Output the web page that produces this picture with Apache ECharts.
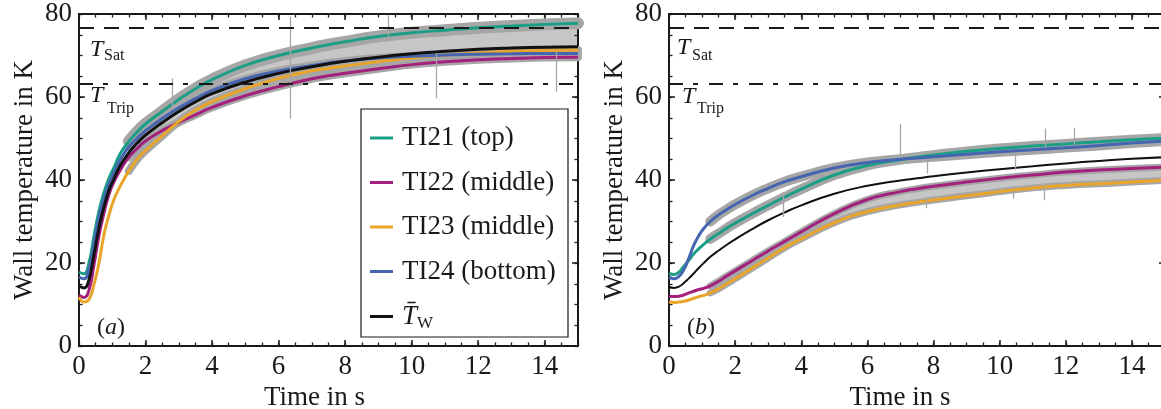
<!DOCTYPE html>
<html><head><meta charset="utf-8">
<script src="https://cdn.jsdelivr.net/npm/echarts@6/dist/echarts.min.js"></script>
<style>html,body{margin:0;padding:0;background:#fff}#c{width:1161px;height:409px}</style>
</head><body><div id="c"></div>
<script>
// ---------------- data ----------------
const time = [0,0.15,0.3,0.45,0.6,0.75,0.9,1.05,1.25,1.5,1.75,2,2.5,3,3.5,4,5,6,7,7.5,8,9,10,11,12,13,14,15];
const seriesNames = ['TI21 (top)','TI22 (middle)','TI23 (middle)','TI24 (bottom)','Tw'];

// panel (a)
const a_TI21 = [17.8,17.4,20,26.5,32.5,37,40.4,43,46.5,49.3,51.6,53.5,56.5,59.4,62,64.2,67.6,70,71.8,72.6,73.3,74.6,75.5,76.1,76.7,77.1,77.5,77.8];
const a_TI22 = [12.2,11.7,13.5,19.5,26.5,32,36.5,39.5,42.5,45.5,47.6,49.4,51.9,53.9,55.7,57.5,60.3,62.5,64.4,65.1,65.7,66.8,67.8,68.5,69,69.3,69.5,69.6];
const a_TI23 = [11.8,10.6,11.2,14.8,20,26.8,31.5,35.3,38.7,42.2,45,47.1,50.6,54.1,56.8,58.9,62,64.5,66.3,66.9,67.5,68.5,69.4,70.1,70.6,71,71.2,71.3];
const a_TI24 = [16.6,16.2,18.5,24.5,31,35.5,39,41.8,45,48,50.1,51.9,54.8,57.4,59.6,61.6,64.4,66.3,67.6,68.2,68.7,69.4,69.8,70.1,70.3,70.4,70.5,70.5];
const a_Tw   = [14.4,14,16,22,28.5,33.5,37.5,40.3,43.6,46.6,48.9,50.8,53.8,56.5,58.8,60.8,63.6,65.7,67.3,68,68.6,69.6,70.4,71,71.5,71.8,72,72.1];
const a_spikeT  = [2.8,6.35,9.3,10.73,14.36];
const a_spikeLo = [57,54.8,74,59.7,61.3];
const a_spikeHi = [64.5,79.4,79.8,70.5,71];

// panel (b)
const b_TI21 = [17.5,17.2,17.8,19.2,20.7,22.2,23.4,24.5,25.8,27.1,28.4,29.6,31.8,33.9,35.9,37.8,41.2,43.5,44.9,45.5,46,46.9,47.6,48.2,48.7,49.2,49.7,50.1];
const b_TI22 = [12,11.9,12,12.3,12.8,13.2,13.6,13.9,14.5,15.6,16.9,18.1,20.5,22.9,25.2,27.5,31.9,35.3,37.2,37.9,38.5,39.5,40.4,41.2,41.9,42.4,42.8,43.1];
const b_TI23 = [10.6,10.5,10.6,10.8,11.1,11.5,11.9,12.2,12.8,13.8,15,16.2,18.7,21.2,23.7,25.8,29.7,32.4,34,34.6,35.2,36.2,37.2,38.1,38.7,39.1,39.5,39.9];
const b_TI24 = [16.6,16.2,16.8,18.4,21.2,24.3,26.6,28.3,30,31.6,32.9,34.1,36.2,38,39.6,40.8,42.9,44.2,45,45.3,45.6,46.2,46.8,47.3,47.8,48.3,48.9,49.4];
const b_Tw   = [14.2,14,14.3,15.2,16.3,17.5,18.8,20,21.5,23,24.4,25.7,28.1,30.3,32.2,33.9,36.7,38.6,39.9,40.4,40.9,41.8,42.6,43.3,44,44.6,45.1,45.5];
const b_spikeT  = [3.47,7.0,7.77,7.8,10.4,10.46,11.35,11.37,12.26];
const b_spikeLo = [31.1,46,33.2,41.6,35.5,42.4,35.1,48,48.5];
const b_spikeHi = [37,53.5,35.5,45,37.5,46.5,38.5,52.4,52.6];

const T_SAT = 76.8, T_TRIP = 63.1;

// ---------------- styling ----------------
const FF = 'Liberation Serif';
const INK = '#1a1a1a';
const COLORS = ['#1b9e86','#a3207d','#e9a52a','#4565b0','#111111'];
const GRAY = '#a6a6a6';
const GRAY_FILL = '#c6c6c6';

function xAxesFor(g, pad) {
  const base = {type:'value', gridIndex:g, min:0, max:15, splitLine:{show:false},
    axisLine:{show:false,onZero:false}, axisLabel:{show:false},
    axisTick:{show:true,inside:true,length:3.5,lineStyle:{color:INK,width:1.3}}};
  const major = {axisLine:{show:true,onZero:false,lineStyle:{color:INK,width:2}},
    axisTick:{show:true,inside:true,length:6,lineStyle:{color:INK,width:1.5}}};
  return [
    Object.assign({}, base, major, {position:'bottom', interval:2,
      axisLabel:{show:true, margin:7, color:INK, fontFamily:FF, fontSize:27, showMaxLabel:false},
      name:'Time in s', nameLocation:'middle', nameGap:37,
      nameTextStyle:{color:INK, fontFamily:FF, fontSize:27, padding:[0,pad,0,0]}}),
    Object.assign({}, base, {position:'bottom', interval:0.5}),
    Object.assign({}, base, major, {position:'top', interval:2}),
    Object.assign({}, base, {position:'top', interval:0.5})
  ];
}
function yAxesFor(g) {
  const base = {type:'value', gridIndex:g, min:0, max:80, splitLine:{show:false},
    axisLine:{show:false,onZero:false}, axisLabel:{show:false},
    axisTick:{show:true,inside:true,length:3.5,lineStyle:{color:INK,width:1.3}}};
  const major = {axisLine:{show:true,onZero:false,lineStyle:{color:INK,width:2}},
    axisTick:{show:true,inside:true,length:6,lineStyle:{color:INK,width:1.5}}};
  return [
    Object.assign({}, base, major, {position:'left', interval:20,
      axisLabel:{show:true, margin:7, color:INK, fontFamily:FF, fontSize:27},
      name:'Wall temperature in K', nameLocation:'middle', nameGap:41,
      nameTextStyle:{color:INK, fontFamily:FF, fontSize:27}}),
    Object.assign({}, base, {position:'left', interval:5}),
    Object.assign({}, base, major, {position:'right', interval:20}),
    Object.assign({}, base, {position:'right', interval:5})
  ];
}

const xy = arr => time.map((t,i)=>[t, arr[i]]);
const fromT = (arr, t0) => time.map((t,i)=>[t, arr[i]]).filter(p => p[0] >= t0);

const panels = [
  {ax:0, raw:[a_TI21,a_TI22,a_TI23,a_TI24], mean:a_Tw, sp:[a_spikeT,a_spikeLo,a_spikeHi],
   grayW:[12,8,8,8], grayT0:1.5, meanW:3, band:[a_TI22, a_TI21], bandT0:2},
  {ax:4, raw:[b_TI21,b_TI22,b_TI23,b_TI24], mean:b_Tw, sp:[b_spikeT,b_spikeLo,b_spikeHi],
   grayW:[10,7,7,10], grayT0:1.25, meanW:2, band:[b_TI23, b_TI22], bandT0:1.75}
];

const series = [];
panels.forEach((p, pi) => {
  // dense noise region between two raw signals: grey area under the upper signal,
  // then white area under the lower signal
  series.push({type:'line', name:'bandHi'+pi, xAxisIndex:p.ax, yAxisIndex:p.ax,
    data:fromT(p.band[1], p.bandT0), symbol:'none', smooth:0.5, silent:true, z:0,
    lineStyle:{width:0, opacity:0}, areaStyle:{color:GRAY_FILL, opacity:1, origin:'start'}});
  series.push({type:'line', name:'bandLo'+pi, xAxisIndex:p.ax, yAxisIndex:p.ax,
    data:xy(p.band[0]), symbol:'none', smooth:0.5, silent:true, z:0,
    lineStyle:{width:0, opacity:0}, areaStyle:{color:'#ffffff', opacity:1, origin:'start'}});
  // noisy raw signals (grey)
  p.raw.forEach((arr, k) => {
    const s = {type:'line', name:'raw'+pi+k, xAxisIndex:p.ax, yAxisIndex:p.ax, data:fromT(arr, p.grayT0),
      symbol:'none', smooth:0.5, silent:true, z:1,
      lineStyle:{color:GRAY, width:p.grayW[k], cap:'round', join:'round'}, itemStyle:{color:GRAY}};
    if (k === 0) {
      s.markLine = {silent:true, symbol:['none','none'], label:{show:false},
        lineStyle:{color:GRAY, width:1.3, type:'solid'},
        data: p.sp[0].map((t,i)=>[{coord:[t,p.sp[1][i]]},{coord:[t,p.sp[2][i]]}])};
    }
    series.push(s);
  });
  // reference lines
  series.push({type:'line', name:'ref'+pi, xAxisIndex:p.ax, yAxisIndex:p.ax, data:[], z:2,
    markLine:{silent:true, symbol:['none','none'], label:{show:false},
      data:[
        {yAxis:T_SAT, lineStyle:{color:INK, width:2, type:[15,10]}},
        {yAxis:T_TRIP, lineStyle:{color:INK, width:2, type:[14,10,5,11]}}
      ]}});
  // smoothed signals
  p.raw.concat([p.mean]).forEach((arr, k) => {
    series.push({type:'line', name:seriesNames[k], xAxisIndex:p.ax, yAxisIndex:p.ax, data:xy(arr),
      symbol:'none', smooth:0.5, z:3, color:COLORS[k],
      lineStyle:{color:COLORS[k], width:(k===4?p.meanW:3)}, itemStyle:{color:COLORS[k]}});
  });
});

const txt = (text, x, y, size, italic) => ({type:'text', x:x, y:y, silent:true, z:10,
  style:{text:text, fill:INK, font:(italic?'italic ':'')+size+'px '+FF, verticalAlign:'middle', align:'left'}});

const option = {
  animation:false,
  backgroundColor:'#fff',
  textStyle:{fontFamily:FF},
  grid:[
    {left:79, top:14, width:499, height:332, containLabel:false, outerBoundsMode:'none'},
    {left:669, top:14, width:496, height:332, containLabel:false, outerBoundsMode:'none'}
  ],
  xAxis: xAxesFor(0, 28).concat(xAxesFor(1, 34)),
  yAxis: yAxesFor(0).concat(yAxesFor(1)),
  legend:{
    data:seriesNames, orient:'vertical', left:370, top:123, padding:0,
    itemWidth:23, itemHeight:3, itemGap:14.5, icon:'rect', selectedMode:false,
    formatter: n => n === 'Tw' ? '{t|T\u0304}{s|W}' : n,
    textStyle:{color:INK, fontFamily:FF, fontSize:27, lineHeight:30, padding:[0,0,0,4],
      rich:{
        t:{fontFamily:FF, fontSize:27, fontStyle:'italic', lineHeight:30, color:INK},
        s:{fontFamily:FF, fontSize:17, lineHeight:30, color:INK, padding:[14,0,0,0]}
      }}
  },
  graphic:[
    {type:'rect', silent:true, z:10, shape:{x:361, y:109, width:207, height:228},
      style:{fill:'none', stroke:INK, lineWidth:1.2}},
    txt('T', 90, 49.5, 24, true), txt('Sat', 104, 56, 16, false),
    txt('T', 90, 95.5, 24, true), txt('Trip', 107, 108.5, 16, false),
    txt('T', 677, 47.5, 24, true), txt('Sat', 692, 56, 16, false),
    txt('T', 682, 96.5, 24, true), txt('Trip', 697, 109, 16, false),
    {type:'text', x:97, y:327.5, silent:true, z:10, style:{text:'{p|(}{i|a}{p|)}', verticalAlign:'middle', align:'left',
      rich:{p:{fontFamily:FF, fontSize:24, fill:INK, color:INK}, i:{fontFamily:FF, fontSize:24, fontStyle:'italic', fill:INK, color:INK}}}},
    {type:'text', x:687, y:327.5, silent:true, z:10, style:{text:'{p|(}{i|b}{p|)}', verticalAlign:'middle', align:'left',
      rich:{p:{fontFamily:FF, fontSize:24, fill:INK, color:INK}, i:{fontFamily:FF, fontSize:24, fontStyle:'italic', fill:INK, color:INK}}}}
  ],
  series: series
};

const chart = echarts.init(document.getElementById('c'), null, {renderer:'canvas'});
chart.setOption(option);
</script>
</body></html>
